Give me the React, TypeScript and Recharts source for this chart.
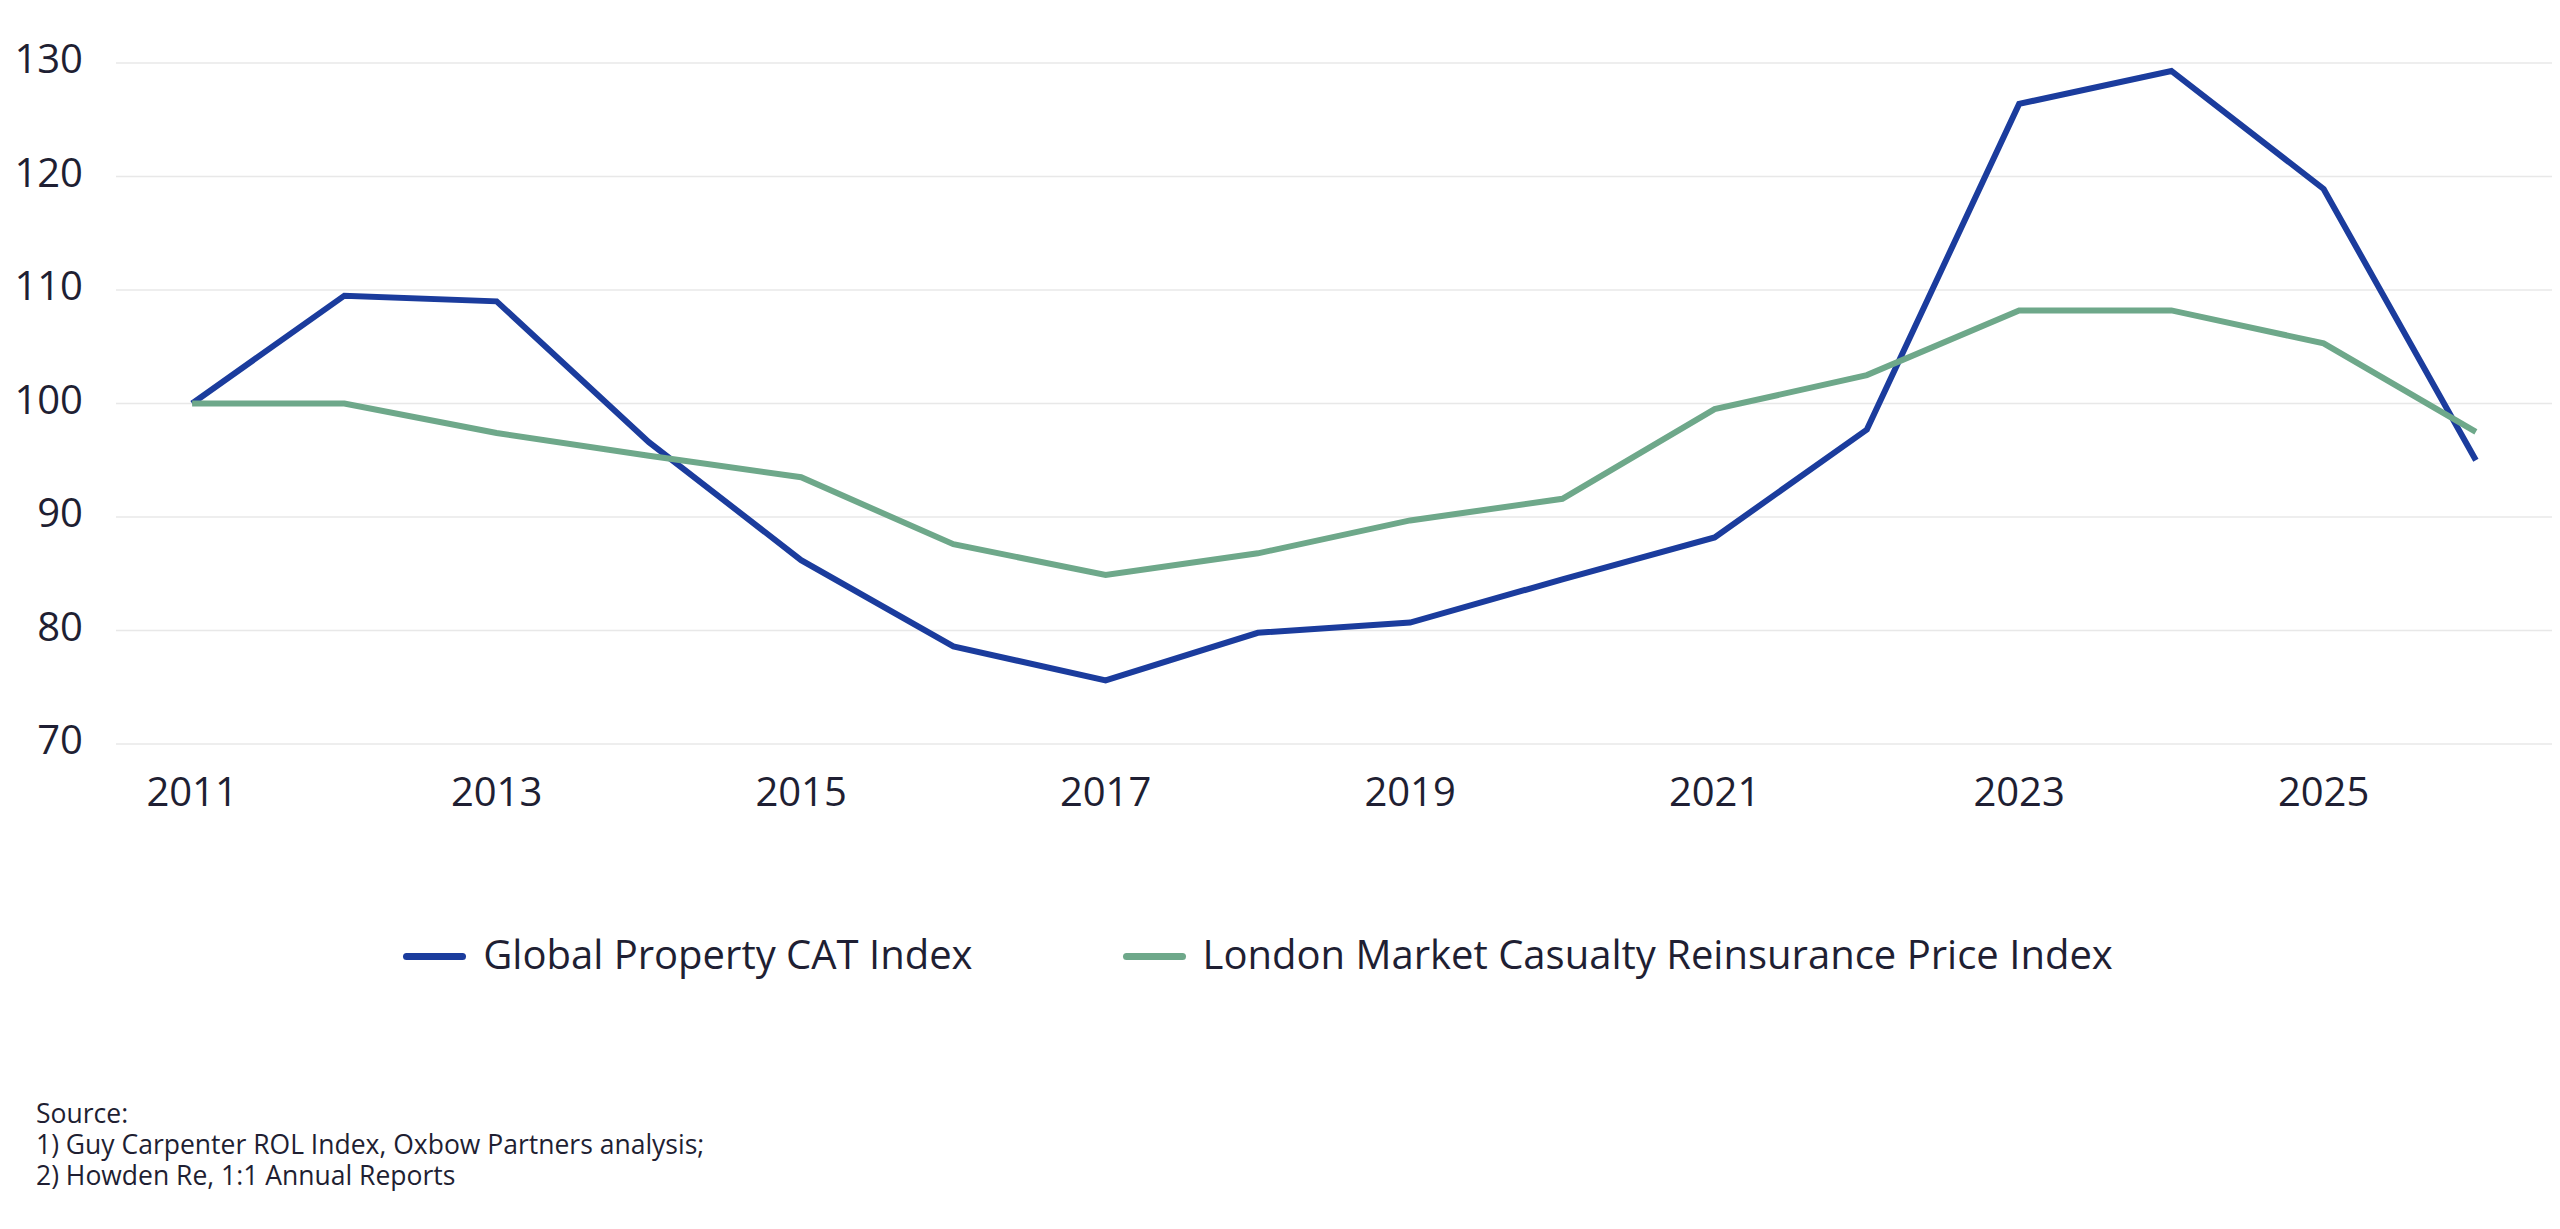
import { LineChart, Line, XAxis, YAxis, CartesianGrid, Legend } from 'recharts'

const years = [2011, 2012, 2013, 2014, 2015, 2016, 2017, 2018, 2019, 2020, 2021, 2022, 2023, 2024, 2025, 2026]
const propertyCat = [100, 109.5, 109, 96.6, 86.2, 78.6, 75.6, 79.8, 80.7, 84.5, 88.2, 97.7, 126.4, 129.3, 118.9, 95]
const casualty = [100, 100, 97.4, 95.4, 93.5, 87.6, 84.9, 86.8, 89.7, 91.6, 99.5, 102.5, 108.2, 108.2, 105.3, 97.5]
const xTicks = [2011, 2013, 2015, 2017, 2019, 2021, 2023, 2025]
const yTicks = [70, 80, 90, 100, 110, 120, 130]
const sourceLines = ['Source:', '1) Guy Carpenter ROL Index, Oxbow Partners analysis;', '2) Howden Re, 1:1 Annual Reports']

const BLUE = '#1b3c9d'
const GREEN = '#6ea88a'
const TEXT = '#1f1f33'
const FONT = '"Open Sans", sans-serif'

const series = [
  { key: 'cat', name: 'Global Property CAT Index', color: BLUE },
  { key: 'cas', name: 'London Market Casualty Reinsurance Price Index', color: GREEN },
]

const data = years.map((y, i) => ({ year: y, cat: propertyCat[i], cas: casualty[i] }))

function LegendRow() {
  return (
    <div
      style={{
        display: 'flex',
        justifyContent: 'center',
        alignItems: 'center',
        height: 60,
        gap: 150,
        fontFamily: FONT,
        fontSize: 40,
        color: TEXT,
      }}
    >
      {series.map((s) => (
        <div key={s.key} style={{ display: 'flex', alignItems: 'center' }}>
          <span
            style={{
              display: 'inline-block',
              width: 63,
              height: 7,
              borderRadius: 4,
              background: s.color,
              marginRight: 17,
              marginTop: 6,
            }}
          />
          <span>{s.name}</span>
        </div>
      ))}
    </div>
  )
}

export default function App() {
  const tick = { fontSize: 40, fill: TEXT, fontFamily: FONT }
  return (
    <div style={{ fontFamily: FONT, background: '#fff' }}>
      <LineChart width={2552} height={1000} data={data} margin={{ top: 55, right: 8, bottom: 134, left: 0 }}>
        <CartesianGrid vertical={false} stroke="#e8e8e8" strokeWidth={1.5} />
        <XAxis
          dataKey="year"
          type="number"
          domain={[2010.5, 2026.5]}
          ticks={xTicks}
          tick={tick}
          tickLine={false}
          axisLine={false}
          tickMargin={28}
          height={70}
        />
        <YAxis
          domain={[70, 130]}
          ticks={yTicks}
          tick={{ ...tick, dy: -4 }}
          tickLine={false}
          axisLine={false}
          tickMargin={27}
          width={108}
        />
        <Legend
          verticalAlign="bottom"
          content={() => <LegendRow />}
          wrapperStyle={{ top: 915, left: 0, width: 2500 }}
        />
        {series.map((s) => (
          <Line
            key={s.key}
            dataKey={s.key}
            name={s.name}
            type="linear"
            stroke={s.color}
            strokeWidth={6}
            dot={false}
            activeDot={false}
            isAnimationActive={false}
          />
        ))}
      </LineChart>
      <div style={{ marginTop: 90, paddingLeft: 28, fontSize: 26.5, lineHeight: '31px', color: TEXT }}>
        {sourceLines.map((l) => (
          <div key={l}>{l}</div>
        ))}
      </div>
    </div>
  )
}
